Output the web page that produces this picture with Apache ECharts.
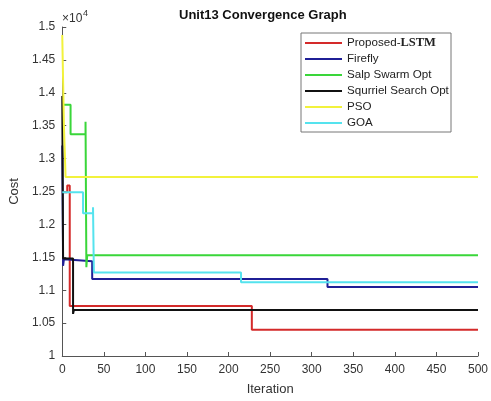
<!DOCTYPE html>
<html><head><meta charset="utf-8">
<script src="https://cdn.jsdelivr.net/npm/echarts@6/dist/echarts.min.js"></script>
<style>html,body{margin:0;padding:0;background:#fff}#c{width:491px;height:401px}</style>
</head><body><div id="c"></div>
<script>
// Series names (legend order)
const seriesNames = ['Proposed-LSTM', 'Firefly', 'Salp Swarm Opt', 'Squrriel Search Opt', 'PSO', 'GOA'];
// Change points: iteration where a new best cost starts, and that cost
const lstmIter = [0, 6, 9, 228, 500];
const lstmCost = [12490, 12590, 10760, 10400, 10400];
const fireflyIter = [0, 1, 2, 4, 36, 319, 500];
const fireflyCost = [13200, 11370, 11470, 11440, 11170, 11050, 11050];
const salpIter = [0, 10, 28, 29, 30, 500];
const salpCost = [13820, 13370, 13560, 11350, 11530, 11530];
const squirrelIter = [0, 1, 13, 14, 500];
const squirrelCost = [13950, 11480, 10640, 10700, 10700];
const psoIter = [0, 2, 4, 500];
const psoCost = [14880, 13500, 12720, 12720];
const goaIter = [0, 25, 37, 38, 215, 500];
const goaCost = [12490, 12170, 12260, 11270, 11120, 11120];
// Axis ticks
const xTicks = [0, 50, 100, 150, 200, 250, 300, 350, 400, 450, 500];
const yTicks = [10000, 10500, 11000, 11500, 12000, 12500, 13000, 13500, 14000, 14500, 15000];

const colors = ['#d42a2a', '#1f1f96', '#3ad63a', '#111111', '#f2f23c', '#55e3ee'];
const iters = [lstmIter, fireflyIter, salpIter, squirrelIter, psoIter, goaIter];
const costs = [lstmCost, fireflyCost, salpCost, squirrelCost, psoCost, goaCost];

const chart = echarts.init(document.getElementById('c'), null, {renderer: 'canvas'});
const series = seriesNames.map((name, i) => ({
  name: name,
  type: 'line',
  step: 'end',
  symbol: 'none',
  data: iters[i].map((x, k) => [x, costs[i][k]]),
  lineStyle: {color: colors[i], width: 2},
  itemStyle: {color: colors[i]},
  animation: false
}));

chart.setOption({
  animation: false,
  backgroundColor: '#fff',
  title: {
    text: 'Unit13 Convergence Graph', left: 179, top: 9, padding: 0,
    textStyle: {fontFamily: 'Liberation Sans', fontSize: 13, fontWeight: 'bold', color: '#111'}
  },
  grid: {left: 61, right: 11, top: 27, bottom: 44},
  xAxis: {
    type: 'value', min: xTicks[0], max: xTicks[xTicks.length - 1], interval: 50,
    name: 'Iteration', nameLocation: 'middle', nameGap: 27,
    nameTextStyle: {fontFamily: 'Liberation Sans', fontSize: 13, color: '#333'},
    axisLine: {show: true, lineStyle: {color: '#555', width: 1}},
    axisTick: {show: true, inside: true, length: 4, lineStyle: {color: '#555'}},
    axisLabel: {fontFamily: 'Liberation Sans', fontSize: 12, color: '#333', margin: 8},
    splitLine: {show: false}
  },
  yAxis: {
    type: 'value', min: yTicks[0], max: yTicks[yTicks.length - 1], interval: 500,
    name: 'Cost', nameLocation: 'middle', nameGap: 35,
    nameTextStyle: {fontFamily: 'Liberation Sans', fontSize: 13, color: '#333'},
    axisLine: {show: true, lineStyle: {color: '#555', width: 1}},
    axisTick: {show: true, inside: true, length: 4, lineStyle: {color: '#555'}},
    axisLabel: {fontFamily: 'Liberation Sans', fontSize: 12, color: '#333', margin: 7,
      formatter: v => String(Math.round(v / 10000 * 100) / 100)},
    splitLine: {show: false}
  },
  legend: {
    orient: 'vertical', left: 305, top: 36, padding: 0, itemGap: 2,
    icon: 'rect', itemWidth: 37, itemHeight: 2,
    data: seriesNames,
    formatter: n => n === 'Proposed-LSTM' ? '{n|Proposed-}{b|LSTM}' : n,
    textStyle: {fontFamily: 'Liberation Sans', fontSize: 11.6, color: '#222', lineHeight: 14,
      rich: {
        n: {fontFamily: 'Liberation Sans', fontSize: 11.6, color: '#222', lineHeight: 14},
        b: {fontFamily: 'Liberation Serif', fontSize: 12.5, fontWeight: 'bold', color: '#222', lineHeight: 14}
      }}
  },
  graphic: [
    {type: 'rect', z: 3, shape: {x: 301, y: 33, width: 150, height: 99},
     style: {fill: '#fff', stroke: '#777', lineWidth: 1}},
    {type: 'text', z: 5, x: 62, y: 13, style: {text: '×10', font: '12px "Liberation Sans"', fill: '#333'}},
    {type: 'text', z: 5, x: 83, y: 9, style: {text: '4', font: '9px "Liberation Sans"', fill: '#333'}}
  ],
  series: series
});
</script>
</body></html>
